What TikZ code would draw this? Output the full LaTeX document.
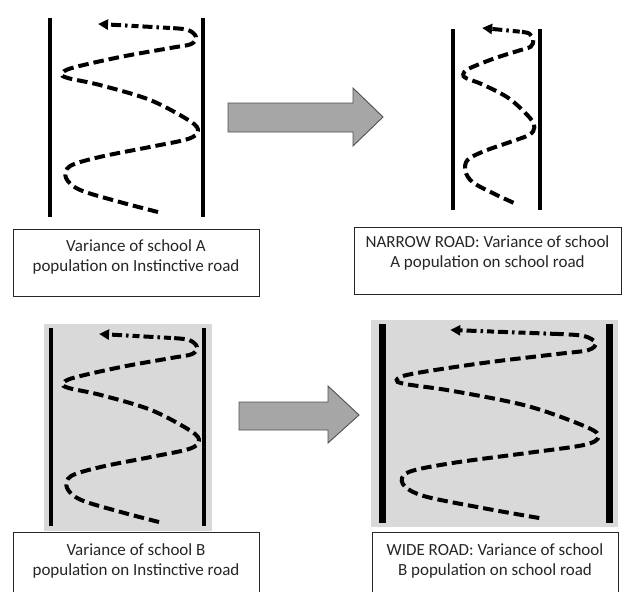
\documentclass[tikz,border=0pt]{standalone}
\usepackage{fontspec}
\setmainfont{Carlito}
\usetikzlibrary{arrows.meta}
\definecolor{roadbg}{HTML}{D9D9D9}
\definecolor{blockfill}{HTML}{A6A6A6}
\definecolor{blockline}{HTML}{505050}
\definecolor{txtcol}{HTML}{262626}
\tikzset{
  road/.style={line width=4.8pt, line cap=butt},
  curve/.style={line width=4pt, dash pattern=on 10.5pt off 5pt, line cap=butt},
  curvetip/.style={line width=4pt, dash pattern=on 7pt off 4pt on 2.5pt off 4pt on 10pt off 4pt, line cap=butt,
    -{Triangle[length=10pt,width=10pt]}},
  blockarrow/.style={fill=blockfill, draw=blockline, line width=0.9pt, line join=miter},
  capbox/.style={draw=black!85, line width=1pt, fill=white},
  captext/.style={font=\fontsize{17}{20.5}\selectfont, text=txtcol, align=center, inner sep=0pt, anchor=north}
}
\newcommand\roadwiggle{%
  \draw[curve] plot[smooth, tension=0.55] coordinates {
    (0.706,0.975) (0.458,0.925) (0.196,0.864) (0.105,0.804) (0.131,0.744)
    (0.327,0.698) (0.654,0.648) (0.902,0.608) (0.967,0.568) (0.915,0.518)
    (0.654,0.412) (0.327,0.337) (0.118,0.302) (0.078,0.281) (0.144,0.251)
    (0.458,0.196) (0.784,0.151) (0.922,0.131) (0.954,0.095) (0.902,0.060)
    (0.784,0.050)};
  \draw[curvetip] (0.784,0.050) -- (0.314,0.030);
}
\begin{document}
\begin{tikzpicture}[x=1pt,y=-1pt]
\useasboundingbox (0,0) rectangle (622,592);
\clip (0,0) rectangle (622,592);
\fill[white] (0,0) rectangle (622,592);

% ---------- gray backgrounds
\fill[roadbg] (44,324) rectangle (212,531);
\fill[roadbg] (371,320) rectangle (618,527);

% ---------- roads
\draw[road] (50,18) -- (50,217);
\draw[road] (203,18) -- (203,217);
\draw[road] (453,29) -- (453,210);
\draw[road] (540,29) -- (540,210);
\draw[road] (51,328) -- (51,526);
\draw[road] (204,328) -- (204,526);
\draw[road, line width=7pt] (382,324) -- (382,523);
\draw[road, line width=7pt] (609,324) -- (609,523);

% ---------- wiggly paths
\begin{scope}[shift={(50,18)}, xscale=153, yscale=199]\roadwiggle\end{scope}
\begin{scope}[shift={(457,22.4)}, xscale=80, yscale=185]\roadwiggle\end{scope}
\begin{scope}[shift={(51,328)}, xscale=153, yscale=199]\roadwiggle\end{scope}
\begin{scope}[shift={(379,324)}, xscale=227, yscale=199]\roadwiggle\end{scope}

% ---------- block arrows
\draw[blockarrow] (228,103) -- (353,103) -- (353,88) -- (383,117) -- (353,146) -- (353,132) -- (228,132) -- cycle;
\draw[blockarrow] (239,402) -- (328,402) -- (328,386) -- (359,415) -- (328,443) -- (328,430) -- (239,430) -- cycle;

% ---------- caption boxes
\node[capbox, anchor=north west, minimum width=246pt, minimum height=67pt] (box1) at (13,229) {};
\node[captext] (cap1) at (136,239) {Variance of school A\\population on Instinctive road};

\node[capbox, anchor=north west, minimum width=267pt, minimum height=67pt] (box2) at (354,227) {};
\node[captext] (cap2) at (487.5,235) {NARROW ROAD: Variance of school\\A population on school road};

\node[capbox, anchor=north west, minimum width=246pt, minimum height=70pt] (box3) at (13,532) {};
\node[captext] (cap3) at (136,543) {Variance of school B\\population on Instinctive road};

\node[capbox, anchor=north west, minimum width=246pt, minimum height=70pt] (box4) at (372,532) {};
\node[captext] (cap4) at (495,543) {WIDE ROAD: Variance of school\\B population on school road};
\end{tikzpicture}
\end{document}
